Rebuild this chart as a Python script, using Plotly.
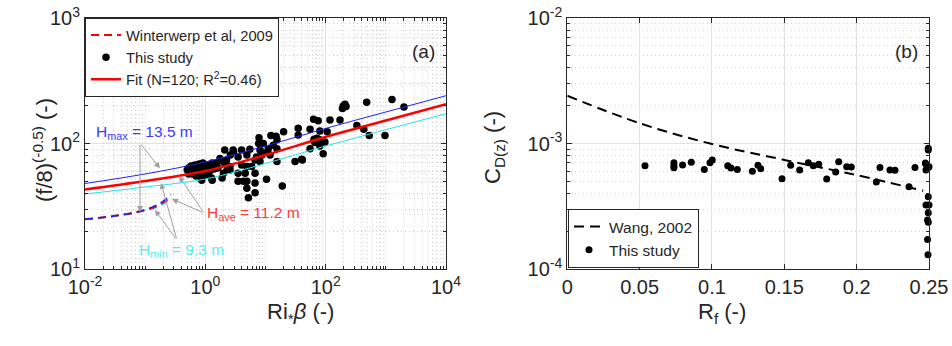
import plotly.graph_objects as go

# ---------------- Panel (a) data ----------------
ri_beta = [480, 1265, 2000, 196, 209, 190, 218, 330, 430, 530, 968, 63, 75, 118, 173, 55, 80, 106,
           64, 72, 80, 97, 66, 55, 80, 91, 40, 35, 35, 20, 12.3, 15, 7.8, 7.7, 9.2, 15.5, 13.5, 15.5,
           2.1, 2.9, 4.0, 5.5, 8.1, 11.1, 2.6, 3.5, 4.9, 7.1, 8.7, 8.1, 1.75, 2.0, 1.55, 15.5, 31, 41,
           0.87, 1.27, 1.9, 3.5, 4.6, 4.9, 5.9, 4.0, 3.5, 4.9, 10.4, 4.9, 5.2, 6.7, 19, 2.3, 2.57, 1.3,
           2.1, 2.57, 2.0, 2.25, 2.95, 9.2, 6.7, 6.7, 6.7, 4.3, 11.9,
           0.50, 0.53, 0.56, 0.58, 0.60, 0.62, 0.65, 0.67, 0.70, 0.73, 0.76, 0.79, 0.81, 0.85, 0.88,
           0.91, 0.95, 0.99, 1.03, 1.07, 1.11, 1.19, 1.24, 1.29, 1.39, 1.50, 1.62, 0.53, 0.70, 0.91]
f8_inv = [213, 224, 195, 199, 205, 190, 197, 139, 130, 116, 116, 156, 152, 154, 154, 130, 126, 124,
          108, 110, 107, 103, 102, 91, 95.5, 83, 75, 132, 117, 124, 116, 114, 111, 100, 100, 107, 97, 91,
          88.8, 88.8, 88.8, 90, 88.8, 91, 81, 78, 81, 78, 81, 72, 76, 72, 70, 72, 72, 74,
          51, 53, 53, 58, 58, 65.5, 65.5, 67.5, 50, 50, 52, 44, 37, 40.5, 45.8, 61.5, 61.5, 51,
          69.5, 65.5, 58, 74, 86, 84, 74, 58, 48.5, 50, 81,
          61.5, 63.9, 59.3, 66.3, 61.5, 57.2, 63.9, 67.5, 60.4, 65.1, 58.2, 68.8, 62.7, 66.3, 59.3,
          70, 63.9, 61.5, 67.5, 56.1, 65.1, 60.4, 66.3, 70, 62.7, 66.3, 63.9, 57.2, 55.1, 55.1]

fit_x = [0.01, 0.1, 1, 10, 100, 1000, 10000]
fit_ave = [43.0, 50.2, 60.4, 81.0, 112.7, 152.5, 205.3]
fit_max = [48.0, 57.2, 71.2, 95.5, 131.9, 178.2, 240.4]
fit_min = [39.6, 45.0, 52.1, 69.3, 95.5, 128.8, 172.8]

ww_x = [0.01, 0.03, 0.08, 0.15, 0.2, 0.27]
ww_max = [24.9, 26.4, 28.7, 32.1, 34.8, 39.3]
ww_ave = [24.9, 26.4, 28.7, 31.5, 33.9, 37.9]
ww_min = [24.9, 26.4, 28.7, 30.9, 33.0, 36.1]

# ---------------- Panel (b) data ----------------
rf = [0.0537, 0.0737, 0.0737, 0.0737, 0.0797, 0.0857, 0.0947, 0.0986, 0.1002, 0.1109, 0.1131, 0.1175,
      0.1279, 0.1318, 0.1337, 0.1484, 0.1544, 0.1606, 0.1666, 0.1700, 0.1738, 0.1793, 0.1855, 0.1876,
      0.1931, 0.1963, 0.2136, 0.2161, 0.2230, 0.2265, 0.2362, 0.2403,
      0.2479, 0.2495, 0.2495, 0.25, 0.2479, 0.2495, 0.2475, 0.2495, 0.2479, 0.25, 0.2495, 0.2490,
      0.2495, 0.2490, 0.2493]
cdz = [6.65e-4, 7.03e-4, 6.65e-4, 6.41e-4, 6.75e-4, 7.08e-4, 6.22e-4, 7.03e-4, 7.40e-4, 6.65e-4, 6.38e-4,
       6.22e-4, 6.0e-4, 6.70e-4, 6.30e-4, 5.24e-4, 6.70e-4, 6.15e-4, 7.03e-4, 6.65e-4, 6.83e-4, 5.21e-4,
       5.93e-4, 7.16e-4, 6.53e-4, 6.49e-4, 4.93e-4, 6.45e-4, 6.15e-4, 6.12e-4, 4.53e-4, 6.45e-4,
       6.83e-4, 9.16e-4, 8.87e-4, 6.53e-4, 6.15e-4, 6.45e-4, 7.0e-4, 3.77e-4, 3.24e-4, 3.24e-4,
       2.81e-4, 2.46e-4, 2.36e-4, 1.72e-4, 1.30e-4]

wang_x = [0, 0.05, 0.1, 0.15, 0.2, 0.246]
wang_y = [2.4e-3, 1.45e-3, 9.9e-4, 7.4e-4, 5.6e-4, 4.2e-4]

FONT = "Liberation Sans, Arial, sans-serif"
AX = "#262626"
BLUE = "#1f1fff"
RED = "#ff0000"
CYAN = "#22e6e6"

fig = go.Figure()

# scatter (a)
fig.add_trace(go.Scatter(x=ri_beta, y=f8_inv, mode="markers", name="This study",
                         marker=dict(color="black", size=7.5), xaxis="x", yaxis="y",
                         legend="legend", legendrank=2))
# fit lines
fig.add_trace(go.Scatter(x=fit_x, y=fit_max, mode="lines", line=dict(color=BLUE, width=1, shape="spline"),
                         showlegend=False, xaxis="x", yaxis="y"))
fig.add_trace(go.Scatter(x=fit_x, y=fit_min, mode="lines", line=dict(color=CYAN, width=1, shape="spline"),
                         showlegend=False, xaxis="x", yaxis="y"))
fig.add_trace(go.Scatter(x=fit_x, y=fit_ave, mode="lines", name="Fit (N=120; R<sup>2</sup>=0.46)",
                         line=dict(color=RED, width=2.5, shape="spline"), xaxis="x", yaxis="y",
                         legend="legend", legendrank=3))
# Winterwerp dashed
fig.add_trace(go.Scatter(x=ww_x, y=ww_min, mode="lines", line=dict(color=CYAN, width=2, dash="8px,5px", shape="spline"),
                         showlegend=False, xaxis="x", yaxis="y"))
fig.add_trace(go.Scatter(x=ww_x, y=ww_ave, mode="lines", name="Winterwerp et al, 2009",
                         line=dict(color=RED, width=2, dash="8px,5px", shape="spline"), xaxis="x", yaxis="y",
                         legend="legend", legendrank=1))
fig.add_trace(go.Scatter(x=ww_x, y=ww_max, mode="lines", line=dict(color=BLUE, width=1.5, dash="8px,5px", shape="spline"),
                         showlegend=False, xaxis="x", yaxis="y"))

# panel (b)
fig.add_trace(go.Scatter(x=wang_x, y=wang_y, mode="lines", name="Wang, 2002",
                         line=dict(color="black", width=2, dash="10px,6px", shape="spline"), xaxis="x2", yaxis="y2",
                         legend="legend2", legendrank=1))
fig.add_trace(go.Scatter(x=rf, y=cdz, mode="markers", name="This study", cliponaxis=False,
                         marker=dict(color="black", size=7), xaxis="x2", yaxis="y2",
                         legend="legend2", legendrank=2))


def sup(base, e):
    return f"{base}<sup>{e}</sup>"


def minor_vals(lo, hi, skip_major):
    vals = []
    for k in range(lo, hi):
        for m in range(1, 10):
            if m == 1 and k in skip_major:
                continue
            vals.append(m * 10.0 ** k)
    return vals


common = dict(showline=True, linecolor=AX, linewidth=1, mirror="allticks", ticks="inside",
              ticklen=5, tickcolor=AX, tickwidth=1, showgrid=True, gridcolor="#e2e2e2",
              gridwidth=1, zeroline=False, automargin=False,
              tickfont=dict(family=FONT, size=20, color=AX))
minor_common = dict(ticks="inside", ticklen=3, tickcolor=AX, showgrid=True,
                    gridcolor="#cfcfcf", griddash="1px,3px", gridwidth=1)

fig.update_layout(
    width=952, height=346, margin=dict(l=0, r=0, t=0, b=0, autoexpand=False),
    paper_bgcolor="white", plot_bgcolor="white",
    font=dict(family=FONT, color=AX),
    xaxis=dict(type="log", range=[-2, 4], domain=[85 / 952, 446 / 952], anchor="y",
               tickvals=[1e-2, 1, 1e2, 1e4], ticktext=[sup("10", -2), sup("10", 0), sup("10", 2), sup("10", 4)],
               minor=dict(tickvals=minor_vals(-2, 4, [-2, 0, 2]), **minor_common), **common),
    yaxis=dict(type="log", range=[1, 3], domain=[1 - 269 / 346, 1 - 18 / 346], anchor="x",
               tickvals=[10, 100, 1000], ticktext=[sup("10", 1), sup("10", 2), sup("10", 3)],
               minor=dict(tickvals=minor_vals(1, 3, [1, 2]), **minor_common), **common),
    xaxis2=dict(range=[0, 0.25], domain=[567.3 / 952, 929 / 952], anchor="y2",
                tickvals=[0, 0.05, 0.1, 0.15, 0.2, 0.25], ticktext=["0", "0.05", "0.1", "0.15", "0.2", "0.25"],
                **common),
    yaxis2=dict(type="log", range=[-4, -2], domain=[1 - 269 / 346, 1 - 18 / 346], anchor="x2",
                tickvals=[1e-4, 1e-3, 1e-2], ticktext=[sup("10", -4), sup("10", -3), sup("10", -2)],
                minor=dict(tickvals=minor_vals(-4, -2, [-4, -3]), **minor_common), **common),
    legend=dict(x=85 / 952, y=1 - 18 / 346, xanchor="left", yanchor="top",
                bgcolor="white", bordercolor=AX, borderwidth=1, itemwidth=30,
                font=dict(family=FONT, size=14.7, color=AX), tracegroupgap=0),
    legend2=dict(x=568 / 952, y=1 - 268 / 346, xanchor="left", yanchor="bottom",
                 bgcolor="white", bordercolor=AX, borderwidth=1, itemwidth=30,
                 font=dict(family=FONT, size=15.5, color=AX), tracegroupgap=0),
    showlegend=True,
)

ann = []
# axis titles
ann.append(dict(text="(f/8)<sup>(-0.5)</sup> (-)", xref="paper", yref="paper", x=27 / 952, y=1 - 150 / 346,
                textangle=-90, showarrow=False, font=dict(family=FONT, size=22, color=AX)))
ann.append(dict(text="Ri<sub>*</sub><i>β</i> (-)", xref="paper", yref="paper", x=265 / 952, y=1 - 329 / 346,
                showarrow=False, font=dict(family=FONT, size=22, color=AX)))
ann.append(dict(text="C<sub>D(z)</sub> (-)", xref="paper", yref="paper", x=494 / 952, y=1 - 148 / 346,
                textangle=-90, showarrow=False, font=dict(family=FONT, size=22, color=AX)))
ann.append(dict(text="R<sub>f</sub> (-)", xref="paper", yref="paper", x=748 / 952, y=1 - 329 / 346,
                showarrow=False, font=dict(family=FONT, size=22, color=AX)))
# panel labels
ann.append(dict(text="(a)", xref="paper", yref="paper", x=437 / 952, y=1 - 39.5 / 346, xanchor="right",
                showarrow=False, font=dict(family=FONT, size=19, color=AX)))
ann.append(dict(text="(b)", xref="paper", yref="paper", x=920 / 952, y=1 - 39 / 346, xanchor="right",
                showarrow=False, font=dict(family=FONT, size=19, color=AX)))

# H labels (log10 coordinates on panel a)
ann.append(dict(text="H<sub>max</sub> = 13.5 m", xref="x", yref="y", x=-1.85, y=2.084, xanchor="left",
                showarrow=False, font=dict(family=FONT, size=15.5, color="#3a3aff")))
ann.append(dict(text="H<sub>ave</sub> = 11.2 m", xref="x", yref="y", x=-0.006, y=1.446, xanchor="left",
                showarrow=False, font=dict(family=FONT, size=15.5, color="#ff3a3a")))
ann.append(dict(text="H<sub>min</sub> = 9.3 m", xref="x", yref="y", x=-1.136, y=1.151, xanchor="left",
                showarrow=False, font=dict(family=FONT, size=15.5, color="#55eeee")))

arrows = [
    ((-1.086, 2.002), (-0.754, 1.802)),
    ((-1.086, 2.002), (-1.086, 1.454)),
    ((-0.022, 1.446), (-0.438, 1.741)),
    ((-0.022, 1.446), (-0.554, 1.558)),
    ((-0.471, 1.231), (-0.737, 1.685)),
    ((-0.471, 1.231), (-0.837, 1.470)),
]
for (ax_, ay_), (x_, y_) in arrows:
    ann.append(dict(text="", xref="x", yref="y", axref="x", ayref="y", x=x_, y=y_, ax=ax_, ay=ay_,
                    showarrow=True, arrowhead=2, arrowsize=1.2, arrowwidth=1, arrowcolor="#a0a0a0"))

fig.update_layout(annotations=ann)
fig.write_html("out.html")
